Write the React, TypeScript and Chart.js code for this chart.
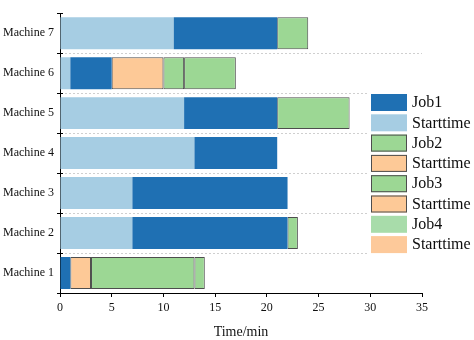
import React, { useEffect, useRef } from 'react';
import { Chart, registerables } from 'chart.js';
Chart.register(...registerables);

type Seg = [number, number] | null;

const machines = ['Machine 7', 'Machine 6', 'Machine 5', 'Machine 4', 'Machine 3', 'Machine 2', 'Machine 1'];
const xTickValues = [0, 5, 10, 15, 20, 25, 30, 35];

const job1: Seg[] = [[11, 21], [1, 5], [12, 21], [13, 21], [7, 22], [7, 22], [0, 1]];
const start1: Seg[] = [[0, 11], [0, 1], [0, 12], [0, 13], [0, 7], [0, 7], null];
const job2: Seg[] = [[21, 24], [10, 12], [21, 28], null, null, [22, 23], [3, 13]];
const start2: Seg[] = [null, [5, 10], null, null, null, null, [1, 3]];
const job3: Seg[] = [null, [12, 17], null, null, null, null, [13, 14]];
const start3: Seg[] = [null, null, null, null, null, null, null];
const job4: Seg[] = [null, null, null, null, null, null, null];
const start4: Seg[] = [null, null, null, null, null, null, null];

const seriesNames = ['Job1', 'Starttime', 'Job2', 'Starttime', 'Job3', 'Starttime', 'Job4', 'Starttime'];
const seriesData = [job1, start1, job2, start2, job3, start3, job4, start4];
const seriesFill = ['#1f70b3', '#a6cde3', '#9cd794', '#fdc997', '#9cd794', '#fdc997', '#a8dcaa', '#fdc99a'];
const seriesEdge = [false, false, true, true, true, true, false, false];

const FONT = '"Liberation Serif", "Times New Roman", serif';
const EDGE = '#4d4d4d';

const legendPlugin = {
  id: 'customLegend',
  afterDraw(chart: any) {
    const ctx = chart.ctx;
    ctx.save();
    ctx.fillStyle = '#ffffff';
    ctx.fillRect(369, 88, 105, 170);
    const pitch = 20.3;
    seriesNames.forEach((name, i) => {
      const top = 94 + i * pitch;
      ctx.fillStyle = seriesFill[i];
      ctx.fillRect(371, top, 36, 17);
      if (seriesEdge[i]) {
        ctx.strokeStyle = EDGE;
        ctx.lineWidth = 1;
        ctx.strokeRect(371.5, top + 0.5, 35, 16);
      }
      ctx.fillStyle = '#0d0d0d';
      ctx.font = `16px ${FONT}`;
      ctx.textBaseline = 'middle';
      ctx.textAlign = 'left';
      ctx.fillText(name, 412, top + 9);
    });
    ctx.restore();
  },
};

const yTickPlugin = {
  id: 'yTickMarks',
  afterDraw(chart: any) {
    const { ctx, chartArea } = chart;
    const n = machines.length;
    const h = (chartArea.bottom - chartArea.top) / n;
    ctx.save();
    ctx.strokeStyle = '#000';
    ctx.lineWidth = 1;
    for (let i = 0; i <= n; i++) {
      const y = Math.round(chartArea.top + i * h) + 0.5;
      ctx.beginPath();
      ctx.moveTo(chartArea.left - 3, y);
      ctx.lineTo(chartArea.left + 3, y);
      ctx.stroke();
    }
    ctx.restore();
  },
};

export default function App() {
  const ref = useRef<HTMLCanvasElement | null>(null);
  useEffect(() => {
    if (!ref.current) return;
    const chart = new Chart(ref.current, {
      type: 'bar',
      data: {
        labels: machines,
        datasets: seriesNames.map((name, i) => ({
          label: name,
          data: seriesData[i] as any,
          backgroundColor: seriesFill[i],
          borderColor: seriesEdge[i] ? EDGE : 'rgba(0,0,0,0)',
          borderWidth: seriesEdge[i] ? 1 : 0,
          borderSkipped: false,
          grouped: false,
          barPercentage: 0.8,
          categoryPercentage: 1,
        })),
      },
      options: {
        indexAxis: 'y',
        responsive: false,
        animation: false,
        layout: { padding: { top: 1, right: 52, left: 0, bottom: 0 } },
        plugins: {
          legend: { display: false },
          tooltip: { enabled: false },
        },
        scales: {
          x: {
            type: 'linear',
            min: 0,
            max: 35,
            afterBuildTicks: (scale: any) => {
              scale.ticks = xTickValues.map((v) => ({ value: v }));
            },
            afterFit: (scale: any) => {
              scale.height = 47;
            },
            grid: { drawOnChartArea: false, drawTicks: true, tickLength: 4, color: '#000' },
            border: { color: '#000', width: 1 },
            ticks: { color: '#111', padding: 4, font: { size: 12, family: FONT } },
            title: {
              display: true,
              text: 'Time/min',
              color: '#111',
              font: { size: 14, family: FONT },
              padding: { top: 0, bottom: -1 },
            },
          },
          y: {
            type: 'category',
            afterFit: (scale: any) => {
              scale.width = 60;
            },
            grid: {
              offset: true,
              drawTicks: false,
              color: (c: any) => (c.index === 0 ? 'rgba(0,0,0,0)' : '#cfcfcf'),
            },
            border: { color: '#000', width: 1, dash: [2, 2] } as any,
            ticks: { color: '#111', padding: 6, font: { size: 12, family: FONT } },
          },
        },
      },
      plugins: [yTickPlugin, legendPlugin],
    } as any);
    return () => chart.destroy();
  }, []);
  return (
    <div style={{ position: 'fixed', left: 0, top: 0, width: 474, height: 340, background: '#fff' }}>
      <canvas ref={ref} width={474} height={340} />
    </div>
  );
}
